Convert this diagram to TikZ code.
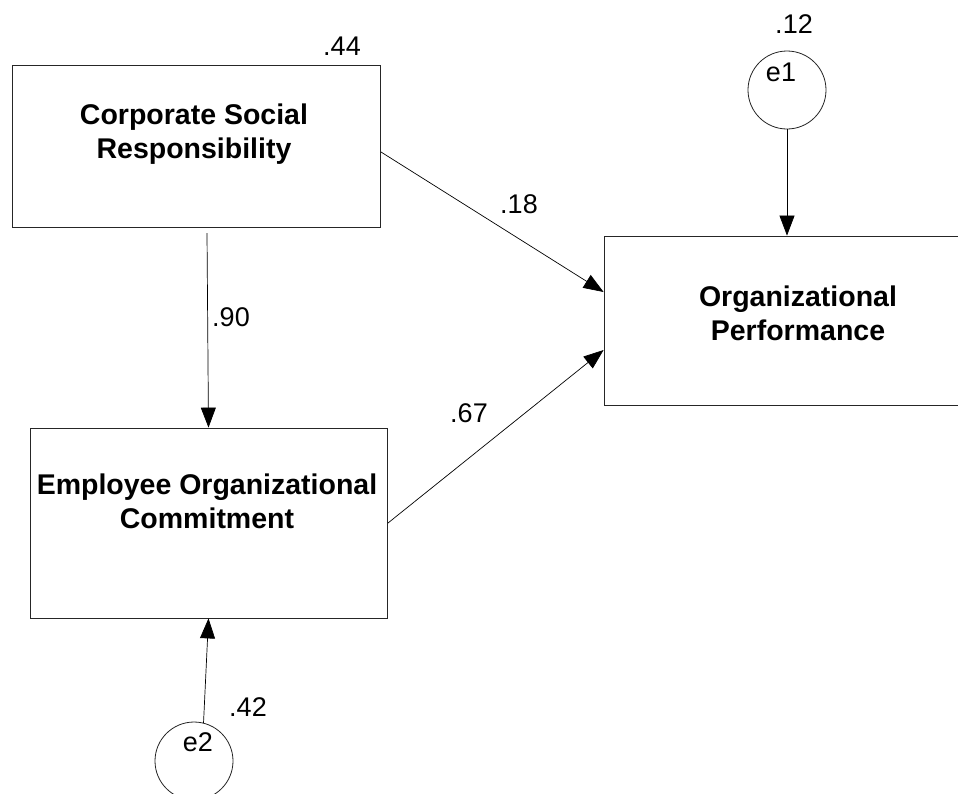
\documentclass[tikz,border=0pt]{standalone}
\usepackage{fontspec}
\setmainfont{Liberation Sans}
\usetikzlibrary{arrows.meta}
\tikzset{
  box/.style={draw=black!85, line width=0.8pt, rectangle, inner sep=0pt},
  boxtext/.style={inner sep=0pt, align=center, font=\fontsize{28.5}{34}\selectfont\bfseries},
  err/.style={draw=black!85, line width=0.8pt, circle, minimum size=78pt, inner sep=0pt},
  num/.style={inner sep=0pt, font=\fontsize{27}{32}\selectfont},
  arr/.style={draw=black, line width=0.7pt, -{Triangle[length=20pt,width=15pt]}},
}
\begin{document}
\begin{tikzpicture}[x=1pt,y=-1pt]
\useasboundingbox (0,0) rectangle (958,793);
\clip (0,0) rectangle (958,793);
\fill[white] (0,0) rectangle (958,793);
% boxes
\node[box, minimum width=368pt, minimum height=162pt] (csr) at (196,146) {};
\node[boxtext] (csrt) at (194,134) {Corporate Social\\Responsibility};
\node[box, minimum width=357pt, minimum height=190pt] (eoc) at (208.5,523) {};
\node[boxtext] (eoct) at (207,501) {Employee Organizational\\Commitment};
\node[box, minimum width=388pt, minimum height=169pt] (op) at (798,320.5) {};
\node[boxtext] (opt) at (798,313) {Organizational\\Performance};
% error terms
\node[err] (e1) at (787,90) {};
\node[num] (e1t) at (781,72) {e1};
\node[err] (e2) at (194,761) {};
\node[num] (e2t) at (198,742) {e2};
% numbers
\node[num] (n44) at (342,46) {.44};
\node[num] (n12) at (794,24) {.12};
\node[num] (n18) at (519,204) {.18};
\node[num] (n67) at (469,413) {.67};
\node[num] (n90) at (231,317) {.90};
\node[num] (n42) at (248,707) {.42};
% arrow start points
\coordinate (s1) at (207,233);
\coordinate (s2) at (381,152);
\coordinate (s3) at (388,523);
% connectors
\draw[arr] (s1) -- (eoc.north);
\draw[arr] (s2) -- ([yshift=28.5pt]op.west);
\draw[arr] (s3) -- ([yshift=-29.5pt]op.west);
\draw[arr] (e1) -- (e1 |- op.north);
\draw[arr] (e2.76) -- (eoc.south);
\end{tikzpicture}
\end{document}
